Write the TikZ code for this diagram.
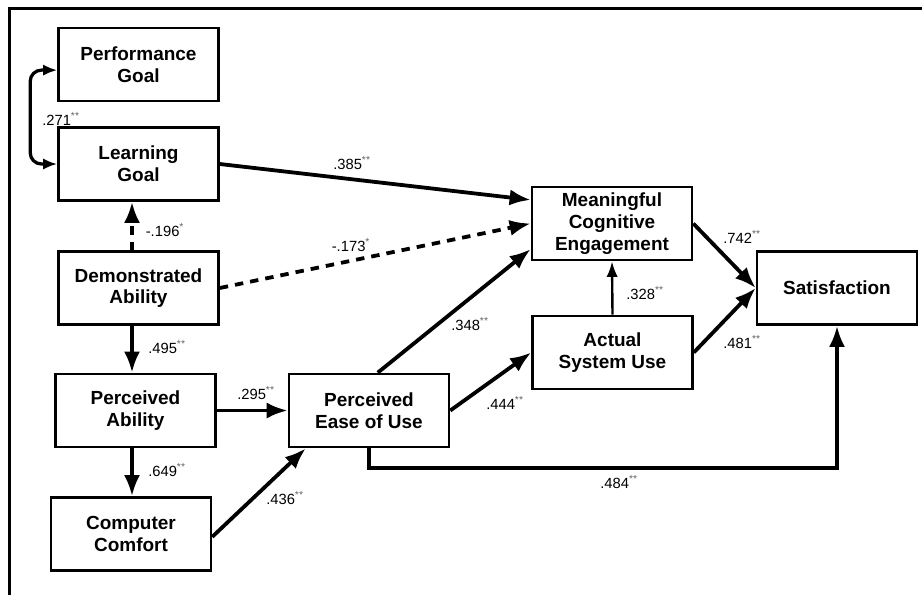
\documentclass[tikz,border=0pt]{standalone}
\usepackage{fontspec}
\setmainfont{Liberation Sans}
\usetikzlibrary{positioning, arrows.meta}

\newcommand{\sig}[1]{\textsuperscript{\color{black!60}#1}}

\begin{document}
\begin{tikzpicture}[
x=0.025cm, y=-0.025cm,
construct/.style={draw,line width=1.8pt,minimum width=4cm,minimum height=1.83cm,align=center,inner sep=2pt,font=\fontsize{13.5}{15.5}\selectfont\bfseries},
effect/.style={line width=2.7pt,-{Latex[length=15pt,width=11.5pt]}},
negeffect/.style={effect,dash pattern=on 6pt off 5pt},
coef/.style={inner sep=1pt,font=\fontsize{10.5}{12}\selectfont}
]
\useasboundingbox (0,0) rectangle (922,595);
\draw[line width=1.5pt] (922,8.5) -- (9.5,8.5) -- (9.5,595);

% constructs
\node[construct] (perf) at (138.5,64.5) {Performance\\Goal};
\node[construct] (learn) at (138.5,164) {Learning\\Goal};
\node[construct] (demo) at (138.5,288) {Demonstrated\\Ability};
\node[construct] (pability) at (135.5,410.5) {Perceived\\Ability};
\node[construct] (comfort) at (131,534) {Computer\\Comfort};
\node[construct] (peou) at (369,410.5) {Perceived\\Ease of Use};
\node[construct] (mce) at (612,223.5) {Meaningful\\Cognitive\\Engagement};
\node[construct] (asu) at (612.5,352.5) {Actual\\System Use};
\node[construct] (sat) at (837,288) {Satisfaction};
\coordinate (spine) at (132,0);

% paths
\draw[line width=2.3pt,{Latex[length=10pt,width=8pt]}-{Latex[length=10pt,width=8pt]},rounded corners=8pt]
  ([yshift=-0.14cm]perf.west) -- ++(-0.675cm,0) |- (learn.west);
\draw[effect] (learn.east) -- ([yshift=0.59cm]mce.west);
\draw[negeffect] (spine |- demo.north) -- (spine |- learn.south);
\draw[negeffect] (demo.east) -- (mce.west);
\draw[effect] (spine |- demo.south) -- (spine |- pability.north);
\draw[effect] (spine |- pability.south) -- (spine |- comfort.north);
\draw[effect] (pability.east) -- (peou.west);
\draw[effect] ([yshift=-0.07cm]comfort.east) -- ([xshift=0.45cm]peou.south west);
\draw[effect] ([xshift=0.22cm]peou.north) -- ([yshift=-0.64cm]mce.west);
\draw[effect] (peou.east) -- (asu.west);
\draw[line width=1.7pt,-{Latex[length=11pt,width=8pt]}] (asu.north) -- (mce.south);
\draw[effect] (mce.east) -- (sat.west);
\draw[effect] (asu.east) -- (sat.west);
\draw[effect] (peou.south) -- ++(0,-0.5cm) -| (sat.south);

% coefficients
\node[coef] (w271) at (61,119) {.271\sig{**}};
\node[coef] (w385) at (352,163) {.385\sig{**}};
\node[coef] (w196) at (165,230) {-.196\sig{*}};
\node[coef] (w173) at (351,245) {-.173\sig{*}};
\node[coef] (w495) at (167,347) {.495\sig{**}};
\node[coef] (w649) at (167,470) {.649\sig{**}};
\node[coef] (w295) at (256,393) {.295\sig{**}};
\node[coef] (w436) at (285,498) {.436\sig{**}};
\node[coef] (w348) at (470,324) {.348\sig{**}};
\node[coef] (w444) at (505,403) {.444\sig{**}};
\node[coef] (w328) at (645,293) {.328\sig{**}};
\node[coef] (w742) at (742,237) {.742\sig{**}};
\node[coef] (w481) at (742,342) {.481\sig{**}};
\node[coef] (w484) at (619,482) {.484\sig{**}};
\end{tikzpicture}
\end{document}
